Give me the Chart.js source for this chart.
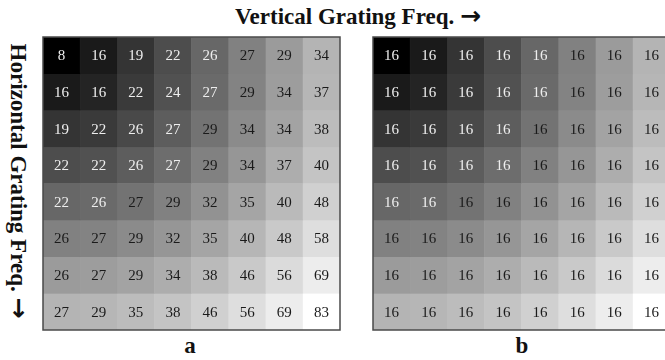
<!DOCTYPE html>
<html>
<head>
<meta charset="utf-8">
<script src="https://cdn.jsdelivr.net/npm/chart.js@4.4.1/dist/chart.umd.min.js"></script>
<style>
  html, body { margin: 0; padding: 0; background: #fff; width: 665px; height: 360px; overflow: hidden; }
  body { position: relative; font-family: "Liberation Serif", "DejaVu Serif", serif; }
  .box { position: absolute; }
  .lbl { position: absolute; font-weight: bold; color: #111; white-space: nowrap; }
  .arr { font-family: "DejaVu Sans", sans-serif; font-weight: bold; font-size: 25px; line-height: 1; }
  #title { left: 358px; top: 3px; font-size: 23px; transform: translateX(-50%); }
  #ylab { left: 18px; top: 181px; font-size: 23px; transform: translate(-50%, -50%) rotate(90deg); }
  #capA { left: 190px; top: 333px; font-size: 23px; transform: translateX(-50%); }
  #capB { left: 522px; top: 333px; font-size: 23px; transform: translateX(-50%); }
</style>
</head>
<body>
<div id="title" class="lbl">Vertical Grating Freq. <span class="arr">&#8594;</span></div>
<div id="ylab" class="lbl">Horizontal Grating Freq. <span class="arr">&#8594;</span></div>
<div class="box" style="left:41px; top:35px; width:301px; height:297px;"><canvas id="chartA"></canvas></div>
<div class="box" style="left:371px; top:35px; width:301px; height:297px;"><canvas id="chartB"></canvas></div>
<div id="capA" class="lbl">a</div>
<div id="capB" class="lbl">b</div>
<script>
// columns = vertical grating frequency, rows = horizontal grating frequency
var freqSteps = ["1", "2", "3", "4", "5", "6", "7", "8"];

// panel a values, one array per row
var tableA = [
  [8, 16, 19, 22, 26, 27, 29, 34],
  [16, 16, 22, 24, 27, 29, 34, 37],
  [19, 22, 26, 27, 29, 34, 34, 38],
  [22, 22, 26, 27, 29, 34, 37, 40],
  [22, 26, 27, 29, 32, 35, 40, 48],
  [26, 27, 29, 32, 35, 40, 48, 58],
  [26, 27, 29, 34, 38, 46, 56, 69],
  [27, 29, 35, 38, 46, 56, 69, 83]
];

// panel b values
var tableB = [
  [16, 16, 16, 16, 16, 16, 16, 16],
  [16, 16, 16, 16, 16, 16, 16, 16],
  [16, 16, 16, 16, 16, 16, 16, 16],
  [16, 16, 16, 16, 16, 16, 16, 16],
  [16, 16, 16, 16, 16, 16, 16, 16],
  [16, 16, 16, 16, 16, 16, 16, 16],
  [16, 16, 16, 16, 16, 16, 16, 16],
  [16, 16, 16, 16, 16, 16, 16, 16]
];

//shade gets lighter with distance from the top-left cell
function shade(row, col) {
  return Math.round(255 * Math.hypot(row, col) / Math.hypot(7, 7));
}
function cellColor(ctx) {
  var g = shade(ctx.datasetIndex, ctx.dataIndex);
  return "rgb(" + g + "," + g + "," + g + ")";
}

var cellText = {
  id: "cellText",
  afterDatasetsDraw: function(chart) {
    var ctx = chart.ctx;
    ctx.save();
    ctx.font = "15px 'Liberation Serif'";
    ctx.textAlign = "center";
    ctx.textBaseline = "middle";
    chart.data.datasets.forEach(function(ds, i) {
      chart.getDatasetMeta(i).data.forEach(function(bar, j) {
        var p = bar.getProps(["x", "y", "base"], true);
        ctx.fillStyle = shade(i, j) < 112 ? "#eeeeee" : "#1a1a1a";
        ctx.fillText(ds.values[j], p.x, (p.y + p.base) / 2 + 1);
      });
    });
    var a = chart.chartArea;
    ctx.strokeStyle = "#4a4a4a";
    ctx.lineWidth = 1.5;
    ctx.strokeRect(a.left, a.top, a.right - a.left, a.bottom - a.top);
    ctx.restore();
  }
};

function makeGrid(id, table) {
  var datasets = table.map(function(row, i) {
    return {
      label: "row " + (i + 1),
      data: row.map(function() { return [i, i + 1]; }),
      values: row,
      backgroundColor: cellColor,
      borderColor: cellColor,
      borderWidth: 0.5,
      borderSkipped: false,
      barPercentage: 1,
      categoryPercentage: 1
    };
  });
  return new Chart(document.getElementById(id), {
    type: "bar",
    data: { labels: freqSteps, datasets: datasets },
    options: {
      responsive: true,
      maintainAspectRatio: false,
      animation: false,
      layout: { padding: 2 },
      plugins: { legend: { display: false }, tooltip: { enabled: false } },
      scales: {
        x: { display: false, stacked: true },
        y: { display: false, min: 0, max: 8, reverse: true }
      }
    },
    plugins: [cellText]
  });
}

makeGrid("chartA", tableA);
makeGrid("chartB", tableB);
</script>
</body>
</html>
